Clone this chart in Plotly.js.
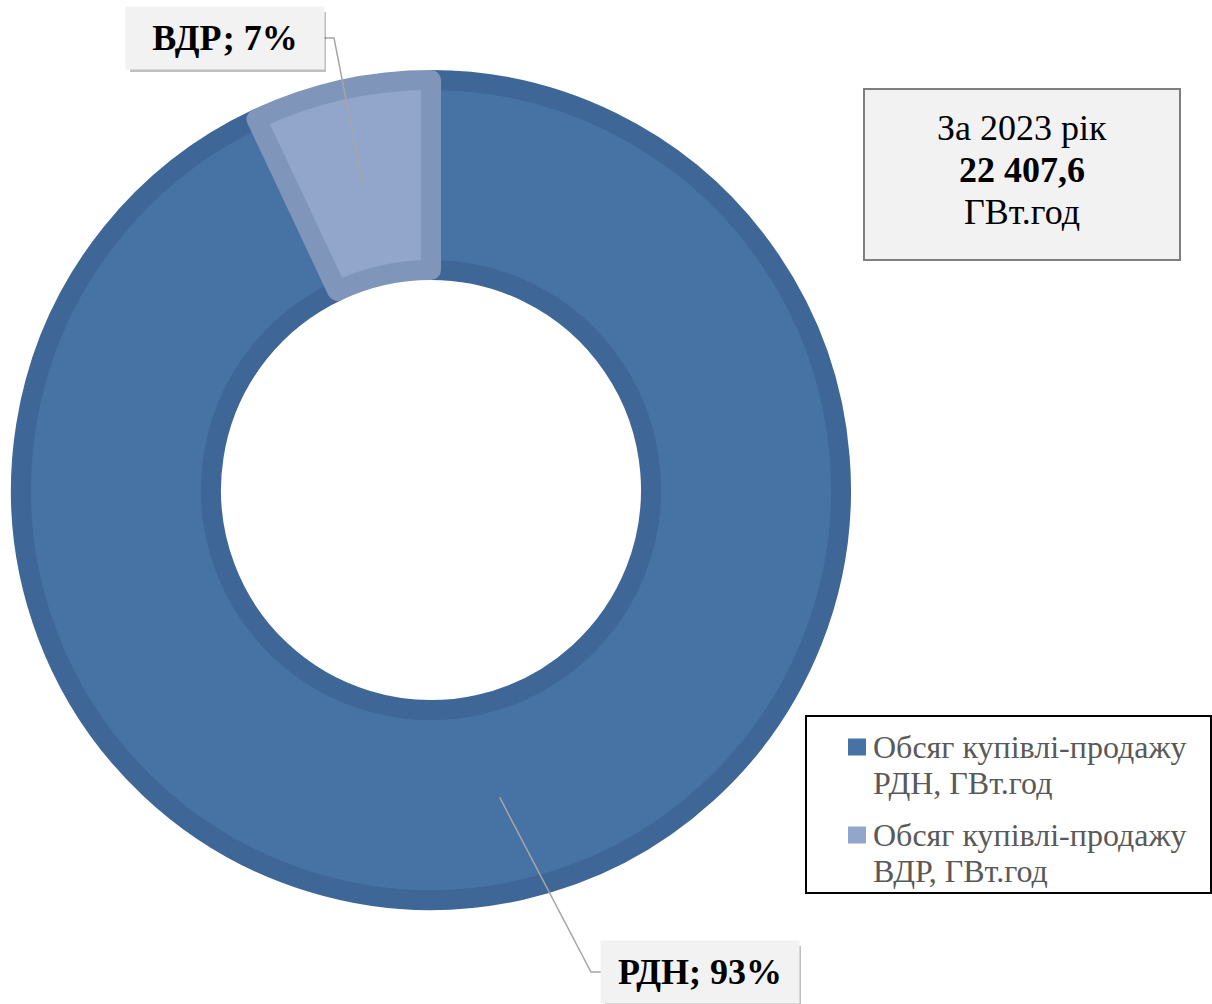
<!DOCTYPE html>
<html>
<head>
<meta charset="utf-8">
<script src="https://cdn.plot.ly/plotly-3.0.1.min.js"></script>
<style>html,body{margin:0;padding:0;background:#fff;}#chart{width:1212px;height:1004px;}</style>
</head>
<body>
<div id="chart"></div>
<script>
// ---- data ----
const shortLabels = ['РДН', 'ВДР'];
const legendLabels = ['Обсяг купівлі-продажу<br>РДН, ГВт.год', 'Обсяг купівлі-продажу<br>ВДР, ГВт.год'];
const shares = [93, 7];
const totalLines = ['За 2023 рік', '<b>22 407,6</b>', 'ГВт.год'];

// ---- styles ----
const fillColors = ['#4672A4', '#92A6CC'];
const lineColors = ['#3E6697', '#8095BA'];
const W = 1212, H = 1004;
const X = p => p / W, Y = p => 1 - p / H;
const serif = 'Liberation Serif, Times New Roman, serif';

// donut geometry (px)
const cx = 431, cy = 490, Rout = 420, Rin = 210, lw = 20;
const R = Rout - lw / 2;
const hole = (Rin + lw / 2) / R;

const trace = {
  type: 'pie',
  labels: legendLabels,
  values: shares,
  sort: false,
  direction: 'clockwise',
  rotation: 0,
  hole: hole,
  textinfo: 'none',
  hoverinfo: 'none',
  showlegend: false,
  marker: { colors: fillColors, line: { color: lineColors, width: lw } },
  domain: { x: [X(cx - R), X(cx + R)], y: [Y(cy + R), Y(cy - R)] }
};

// slice mid angles from data
const total = shares.reduce((a, b) => a + b, 0);
let cum = 0;
const mids = shares.map(v => { const m = (cum + v / 2) / total; cum += v; return m * 2 * Math.PI; });
const rMid = (Rout + Rin) / 2;
const pt = i => [cx + rMid * Math.sin(mids[i]), cy - rMid * Math.cos(mids[i])];

// label boxes (px)
const boxes = [
  { cx: 700, cy: 972, w: 196, h: 60, side: 'left' },   // РДН
  { cx: 225, cy: 38, w: 196, h: 60, side: 'right' }    // ВДР
];

const shapes = [];
const annotations = [];

// leader lines + shadows + labels
boxes.forEach((b, i) => {
  const p = pt(i);
  const ex = b.side === 'left' ? b.cx - b.w / 2 : b.cx + b.w / 2;
  const ex2 = b.side === 'left' ? ex - 11 : ex + 11;
  shapes.push({
    type: 'path', xref: 'paper', yref: 'paper', layer: 'above',
    path: `M${X(ex)},${Y(b.cy)} L${X(ex2)},${Y(b.cy)} L${X(p[0])},${Y(p[1])}`,
    line: { color: '#A6A6A6', width: 1.5 }
  });
  shapes.push({
    type: 'rect', xref: 'paper', yref: 'paper', layer: 'above',
    x0: X(b.cx - b.w / 2 + 3), x1: X(b.cx + b.w / 2 + 3),
    y0: Y(b.cy + b.h / 2 + 4), y1: Y(b.cy - b.h / 2 + 4),
    fillcolor: 'rgba(0,0,0,0.25)', line: { width: 0 }
  });
  annotations.push({
    xref: 'paper', yref: 'paper', x: X(b.cx), y: Y(b.cy),
    xanchor: 'center', yanchor: 'middle', showarrow: false,
    width: b.w, height: b.h, bgcolor: '#F2F2F2',
    text: `<b>${shortLabels[i]}; ${shares[i]}%</b>`,
    font: { family: serif, size: 36, color: '#000000' }
  });
});

// total box
shapes.push({
  type: 'rect', xref: 'paper', yref: 'paper', layer: 'above',
  x0: X(864), x1: X(1180), y0: Y(260), y1: Y(89),
  fillcolor: '#F2F2F2', line: { color: '#7F7F7F', width: 2 }
});
const lineYs = [128, 170, 212];
totalLines.forEach((t, i) => {
  annotations.push({
    xref: 'paper', yref: 'paper', x: X(1022), y: Y(lineYs[i]),
    xanchor: 'center', yanchor: 'middle', showarrow: false,
    text: t, font: { family: serif, size: 36, color: '#000000' }
  });
});

// legend (drawn manually to match symbol size and spacing)
shapes.push({
  type: 'rect', xref: 'paper', yref: 'paper', layer: 'above',
  x0: X(806), x1: X(1211), y0: Y(893), y1: Y(716),
  fillcolor: '#FFFFFF', line: { color: '#000000', width: 2 }
});
const legTop = [747, 835];
legendLabels.forEach((lab, i) => {
  const yc = legTop[i];
  shapes.push({
    type: 'rect', xref: 'paper', yref: 'paper', layer: 'above',
    x0: X(848), x1: X(866), y0: Y(yc + 8.5), y1: Y(yc - 8.5),
    fillcolor: fillColors[i], line: { width: 0 }
  });
  lab.split('<br>').forEach((ln, j) => {
    annotations.push({
      xref: 'paper', yref: 'paper', x: X(871), y: Y(yc + j * 36),
      xanchor: 'left', yanchor: 'middle', showarrow: false,
      text: ln, font: { family: serif, size: 32, color: '#595959' }
    });
  });
});

const layout = {
  width: W, height: H,
  margin: { l: 0, r: 0, t: 0, b: 0 },
  paper_bgcolor: '#FFFFFF',
  showlegend: false,
  shapes: shapes,
  annotations: annotations
};

Plotly.newPlot('chart', [trace], layout, { staticPlot: true });
</script>
</body>
</html>
